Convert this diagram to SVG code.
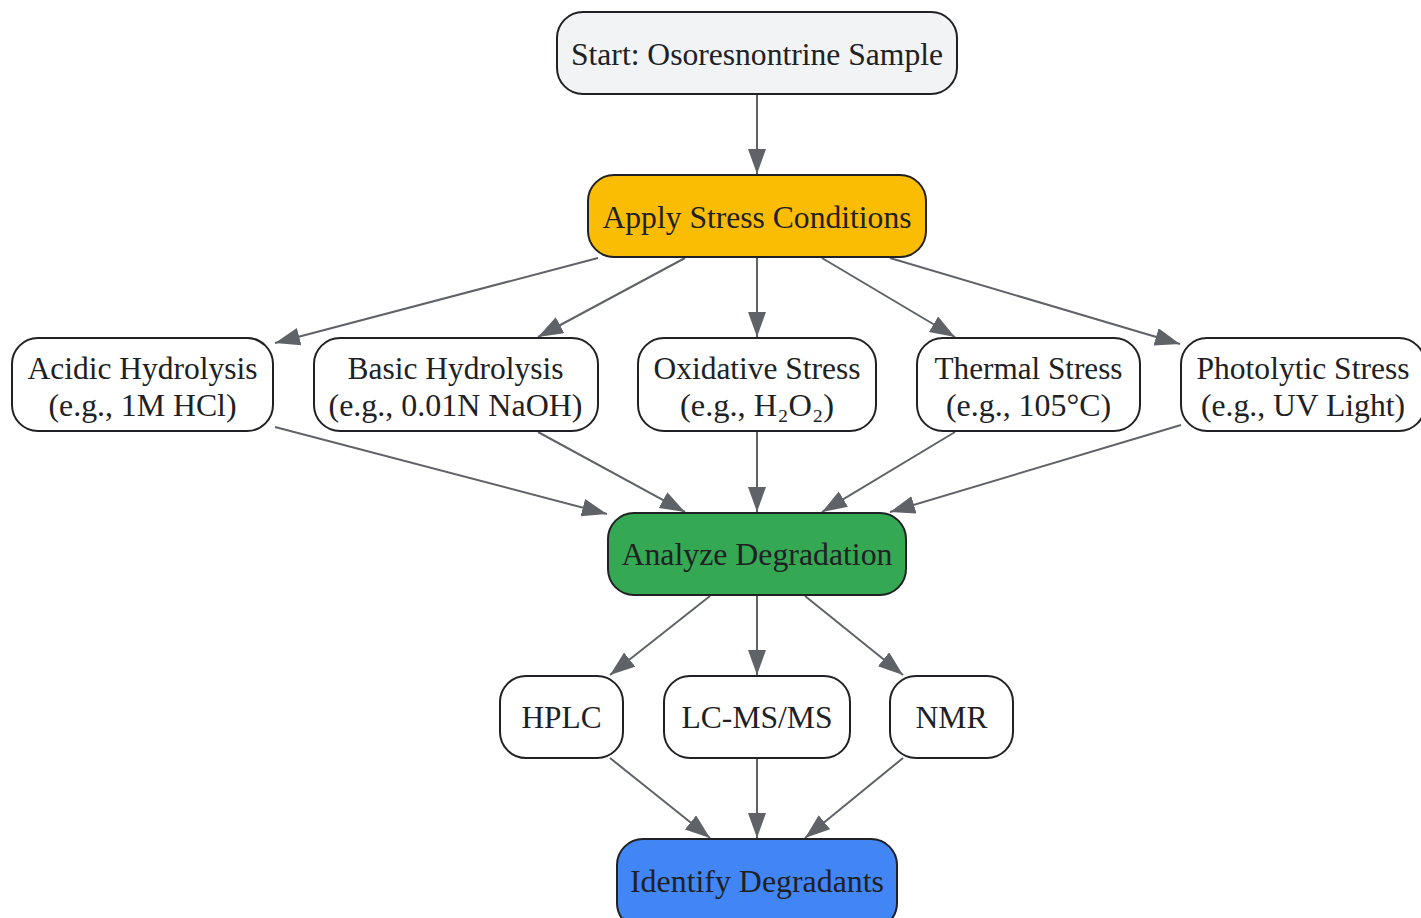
<svg xmlns="http://www.w3.org/2000/svg" width="1421" height="918" viewBox="0 0 1421 918">
<defs>
<marker id="ah" markerUnits="userSpaceOnUse" markerWidth="27" markerHeight="20" refX="25" refY="9" orient="auto">
<path d="M0,0 L25,9 L0,18 Z" fill="#5f6368"/>
</marker>
<style>
.n{stroke:#202124;stroke-width:2;fill:#fff}
.t{font-size:32px;fill:#202124;text-anchor:middle}
.e{stroke:#5f6368;stroke-width:2;fill:none;marker-end:url(#ah)}
</style>
</defs>
<rect width="1421" height="918" fill="#fff"/>
<g id="connectors">
<line class="e" x1="757" y1="94" x2="757" y2="174"/>
<line class="e" x1="598" y1="258" x2="275" y2="343"/>
<line class="e" x1="685" y1="258" x2="538" y2="337"/>
<line class="e" x1="757" y1="258" x2="757" y2="337"/>
<line class="e" x1="822" y1="258" x2="955" y2="337"/>
<line class="e" x1="890" y1="258" x2="1180" y2="344"/>
<line class="e" x1="275" y1="427" x2="607" y2="514"/>
<line class="e" x1="538" y1="432" x2="685" y2="512"/>
<line class="e" x1="757" y1="432" x2="757" y2="512"/>
<line class="e" x1="955" y1="432" x2="822" y2="512"/>
<line class="e" x1="1181" y1="425" x2="890" y2="512"/>
<line class="e" x1="710" y1="596" x2="610" y2="675"/>
<line class="e" x1="757" y1="596" x2="757" y2="675"/>
<line class="e" x1="805" y1="596" x2="903" y2="675"/>
<line class="e" x1="610" y1="758" x2="710" y2="838"/>
<line class="e" x1="757" y1="758" x2="757" y2="838"/>
<line class="e" x1="903" y1="758" x2="805" y2="838"/>
</g>
<g id="nodes">
<g id="start"><rect class="n" x="557" y="12" width="400" height="82" rx="26" style="fill:#f1f3f4"/><text class="t" font-family="Liberation Serif" style="font-family:'Liberation Serif',serif" x="757" y="65" textLength="372" lengthAdjust="spacingAndGlyphs">Start: Osoresnontrine Sample</text></g>
<g id="apply"><rect class="n" x="588" y="175" width="338" height="82" rx="26" style="fill:#fbbc04"/><text class="t" font-family="Liberation Serif" style="font-family:'Liberation Serif',serif" x="757" y="228" textLength="309" lengthAdjust="spacingAndGlyphs">Apply Stress Conditions</text></g>
<g id="acidic"><rect class="n" x="12" y="338" width="261" height="93" rx="26"/><text class="t" font-family="Liberation Serif" style="font-family:'Liberation Serif',serif" x="142.5" y="379" textLength="230" lengthAdjust="spacingAndGlyphs">Acidic Hydrolysis</text><text class="t" font-family="Liberation Serif" style="font-family:'Liberation Serif',serif" x="142.5" y="416" textLength="188" lengthAdjust="spacingAndGlyphs">(e.g., 1M HCl)</text></g>
<g id="basic"><rect class="n" x="314" y="338" width="284" height="93" rx="26"/><text class="t" font-family="Liberation Serif" style="font-family:'Liberation Serif',serif" x="455.5" y="379" textLength="216" lengthAdjust="spacingAndGlyphs">Basic Hydrolysis</text><text class="t" font-family="Liberation Serif" style="font-family:'Liberation Serif',serif" x="455.5" y="416" textLength="254" lengthAdjust="spacingAndGlyphs">(e.g., 0.01N NaOH)</text></g>
<g id="oxidative"><rect class="n" x="638" y="338" width="238" height="93" rx="26"/><text class="t" font-family="Liberation Serif" style="font-family:'Liberation Serif',serif" x="757" y="379" textLength="207" lengthAdjust="spacingAndGlyphs">Oxidative Stress</text><text class="t" font-family="Liberation Serif" style="font-family:'Liberation Serif',serif" x="757" y="416" textLength="154" lengthAdjust="spacingAndGlyphs">(e.g., H₂O₂)</text></g>
<g id="thermal"><rect class="n" x="917" y="338" width="223" height="93" rx="26"/><text class="t" font-family="Liberation Serif" style="font-family:'Liberation Serif',serif" x="1028.5" y="379" textLength="188" lengthAdjust="spacingAndGlyphs">Thermal Stress</text><text class="t" font-family="Liberation Serif" style="font-family:'Liberation Serif',serif" x="1028.5" y="416" textLength="165" lengthAdjust="spacingAndGlyphs">(e.g., 105°C)</text></g>
<g id="photolytic"><rect class="n" x="1181" y="338" width="244" height="93" rx="26"/><text class="t" font-family="Liberation Serif" style="font-family:'Liberation Serif',serif" x="1303" y="379" textLength="213" lengthAdjust="spacingAndGlyphs">Photolytic Stress</text><text class="t" font-family="Liberation Serif" style="font-family:'Liberation Serif',serif" x="1303" y="416" textLength="204" lengthAdjust="spacingAndGlyphs">(e.g., UV Light)</text></g>
<g id="analyze"><rect class="n" x="608" y="513" width="298" height="82" rx="26" style="fill:#34a853"/><text class="t" font-family="Liberation Serif" style="font-family:'Liberation Serif',serif" x="757" y="565" textLength="271" lengthAdjust="spacingAndGlyphs">Analyze Degradation</text></g>
<g id="hplc"><rect class="n" x="500" y="676" width="123" height="82" rx="26"/><text class="t" font-family="Liberation Serif" style="font-family:'Liberation Serif',serif" x="561.5" y="728" textLength="80" lengthAdjust="spacingAndGlyphs">HPLC</text></g>
<g id="lcms"><rect class="n" x="664" y="676" width="186" height="82" rx="26"/><text class="t" font-family="Liberation Serif" style="font-family:'Liberation Serif',serif" x="757" y="728" textLength="151" lengthAdjust="spacingAndGlyphs">LC-MS/MS</text></g>
<g id="nmr"><rect class="n" x="890" y="676" width="123" height="82" rx="26"/><text class="t" font-family="Liberation Serif" style="font-family:'Liberation Serif',serif" x="951.5" y="728" textLength="72" lengthAdjust="spacingAndGlyphs">NMR</text></g>
<g id="identify"><rect class="n" x="617" y="839" width="280" height="90" rx="26" style="fill:#4285f4"/><text class="t" font-family="Liberation Serif" style="font-family:'Liberation Serif',serif" x="757" y="892" textLength="254" lengthAdjust="spacingAndGlyphs">Identify Degradants</text></g>
</g>
</svg>
